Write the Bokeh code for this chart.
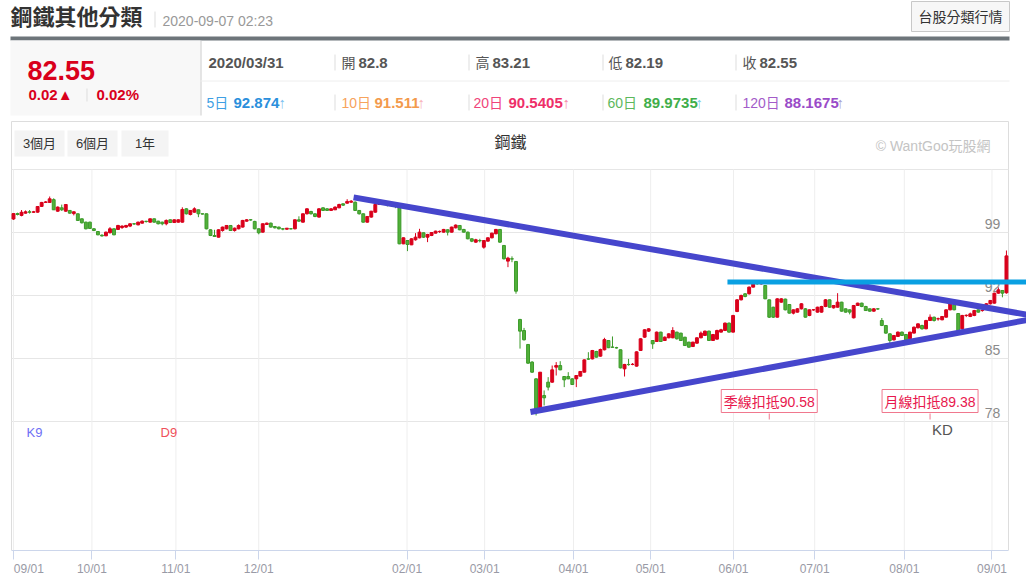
from bokeh.plotting import figure
from bokeh.models import Range1d, FixedTicker
from bokeh.core.properties import value
from bokeh.embed import file_html
from bokeh.resources import INLINE

# ---------------- data ----------------
opens = [100.5, 101.1, 100.9, 101.15, 101.3, 101.25, 101.26, 101.9, 102.34, 102.34,
         102.65, 101.37, 101.74, 101.37, 101.45, 101.1, 101.08, 100.52, 100.15, 100.15,
         99.41, 99.11, 98.7, 98.63, 98.97, 99.41, 99.34, 99.55, 99.6, 99.71,
         99.97, 99.85, 100.04, 100.25, 100.15, 100.52, 100.26, 100.15, 99.97, 100.41,
         100.11, 100.15, 100.15, 101.63, 101.0, 101.26, 101.52, 101.08, 101.08, 99.3,
         98.67, 98.48, 99.22, 99.41, 99.78, 99.22, 99.41, 99.6, 100.26, 100.41,
         100.23, 99.41, 99.04, 99.89, 100.04, 99.67, 99.6, 99.41, 99.37, 99.42,
         99.41, 100.41, 100.15, 101.08, 101.34, 101.08, 100.71, 101.74, 101.63, 101.45,
         101.52, 101.74, 102.19, 102.26, 102.37, 102.37, 101.45, 101.08, 100.15, 100.71,
         101.26, 102.11, 102.48, 102.26, 102.15, 102.19, 102.0, 97.74, 98.11, 97.63,
         98.19, 98.41, 98.97, 98.48, 98.67, 98.93, 99.1, 99.04, 99.3, 99.04,
         99.52, 99.78, 99.34, 99.04, 98.3, 97.93, 98.11, 97.37, 98.04, 98.41,
         98.86, 99.34, 97.56, 95.82, 96.08, 95.78, 89.34, 88.11, 86.56, 84.6,
         82.74, 79.41, 80.89, 82.37, 82.37, 84.04, 84.22, 83.0, 83.0, 82.74,
         82.74, 83.04, 83.48, 84.96, 84.96, 85.78, 85.26, 85.97, 87.0, 86.27,
         86.2, 85.97, 83.85, 84.34, 84.34, 84.15, 85.89, 87.37, 88.04, 87.0,
         86.89, 87.93, 87.0, 87.3, 87.3, 87.93, 87.82, 87.37, 86.82, 86.33,
         86.7, 87.3, 87.56, 88.04, 87.0, 87.15, 87.93, 88.11, 88.93, 87.93,
         90.22, 91.52, 92.19, 92.19, 92.93, 93.35, 93.3, 93.11, 91.52, 90.7,
         89.59, 91.26, 91.6, 91.0, 90.04, 90.15, 90.52, 90.52, 89.78, 90.4,
         90.15, 90.15, 90.78, 91.52, 90.63, 90.7, 91.26, 90.52, 90.41, 89.52,
         90.89, 91.15, 90.78, 90.52, 90.26, 90.52, 89.22, 88.67, 87.74, 87.07,
         87.45, 87.93, 87.67, 87.19, 87.82, 88.41, 88.67, 88.3, 89.22, 89.59,
         89.4, 89.3, 89.59, 90.41, 91.0, 90.0, 88.3, 89.78, 89.67, 89.78,
         90.41, 90.33, 90.7, 91.08, 91.15, 92.26, 92.56, 92.3]
highs = [101.1, 101.2, 101.5, 101.45, 101.5, 101.4, 101.9, 102.4, 102.5, 103.0,
         102.8, 101.9, 102.1, 102.15, 101.5, 101.35, 101.1, 100.55, 100.2, 100.2,
         99.5, 99.15, 98.8, 99.1, 99.6, 99.45, 99.85, 99.8, 99.85, 100.0,
         100.05, 100.2, 100.35, 100.3, 100.55, 100.55, 100.3, 100.2, 100.45, 100.45,
         100.45, 100.45, 101.8, 101.7, 101.5, 101.8, 101.55, 101.1, 101.1, 99.35,
         99.3, 99.35, 99.65, 99.8, 99.8, 99.55, 99.9, 100.4, 100.5, 100.5,
         100.3, 99.45, 100.0, 100.1, 100.1, 99.7, 99.65, 99.5, 99.5, 99.5,
         100.45, 100.8, 101.1, 101.7, 101.4, 101.1, 101.7, 101.8, 101.7, 101.7,
         101.9, 102.2, 102.2, 102.7, 102.6, 102.45, 101.5, 101.1, 100.8, 101.4,
         102.15, 102.45, 102.55, 102.3, 102.2, 102.25, 102.05, 98.45, 98.15, 98.35,
         98.93, 99.41, 99.0, 98.85, 99.05, 99.2, 99.22, 99.4, 99.35, 99.65,
         99.9, 99.82, 99.4, 99.1, 98.35, 98.3, 98.3, 98.15, 98.45, 98.97,
         99.4, 99.38, 97.6, 96.3, 96.35, 95.82, 89.4, 88.4, 86.6, 84.7,
         82.8, 83.5, 81.45, 82.93, 84.22, 84.6, 84.7, 83.05, 83.48, 82.8,
         83.15, 83.6, 84.9, 85.7, 85.95, 85.85, 86.1, 87.3, 87.05, 87.45,
         86.3, 86.0, 84.4, 84.96, 84.5, 85.8, 87.25, 88.25, 88.35, 87.05,
         88.0, 87.97, 87.45, 87.8, 88.48, 87.97, 87.85, 87.4, 86.85, 86.85,
         87.35, 88.0, 88.1, 88.1, 87.7, 88.2, 88.3, 89.0, 89.0, 89.85,
         91.6, 92.1, 92.26, 93.0, 93.37, 93.5, 93.4, 93.15, 91.55, 90.75,
         91.7, 91.7, 91.65, 91.05, 90.45, 90.6, 91.15, 90.6, 90.45, 90.5,
         90.75, 90.85, 91.6, 91.55, 90.95, 92.26, 91.3, 90.55, 90.45, 90.95,
         91.2, 91.2, 90.85, 90.55, 90.6, 90.6, 89.5, 88.7, 87.8, 87.6,
         88.0, 88.0, 87.7, 87.97, 88.55, 88.9, 88.75, 89.3, 89.9, 89.65,
         89.55, 89.7, 90.45, 91.15, 91.05, 90.05, 89.85, 89.9, 90.1, 90.4,
         90.45, 90.45, 91.15, 91.5, 92.3, 92.9, 92.6, 97.0]
lows = [100.4, 100.9, 100.8, 101.1, 101.1, 101.2, 101.2, 101.85, 102.3, 102.3,
        101.5, 101.3, 101.4, 101.3, 101.1, 100.9, 100.3, 100.0, 99.35, 99.4,
        99.15, 98.7, 98.55, 98.6, 98.9, 98.7, 99.3, 99.4, 99.5, 99.6,
        99.85, 99.8, 100.0, 100.1, 100.1, 100.1, 99.9, 99.8, 99.8, 100.05,
        100.05, 100.1, 100.1, 101.0, 100.9, 101.2, 100.7, 101.0, 99.35, 98.6,
        98.5, 98.45, 99.1, 99.35, 99.2, 99.1, 99.35, 99.55, 100.2, 100.3,
        99.35, 98.8, 99.0, 99.85, 99.55, 99.45, 99.35, 99.25, 99.3, 99.35,
        99.35, 100.2, 100.1, 101.0, 101.0, 100.7, 100.65, 101.4, 101.4, 101.4,
        101.5, 101.7, 101.95, 102.2, 102.3, 101.4, 101.0, 100.1, 100.1, 100.65,
        101.2, 102.05, 102.2, 101.9, 101.85, 101.7, 97.7, 97.7, 96.93, 97.6,
        98.1, 98.35, 98.4, 97.93, 98.6, 98.9, 98.95, 99.0, 98.67, 99.0,
        99.45, 99.25, 99.0, 98.25, 97.93, 97.85, 97.9, 97.2, 98.0, 98.35,
        98.8, 97.85, 96.0, 95.15, 95.7, 92.2, 86.1, 87.0, 84.4, 83.4,
        78.67, 79.3, 79.78, 81.45, 82.3, 83.11, 83.7, 81.82, 82.7, 82.05,
        81.82, 83.0, 83.45, 84.85, 84.9, 85.1, 85.2, 85.9, 86.15, 86.2,
        86.1, 83.9, 83.0, 84.2, 84.25, 84.1, 85.85, 87.3, 87.95, 86.07,
        86.85, 86.85, 86.95, 87.25, 87.25, 87.1, 86.95, 86.4, 86.2, 86.3,
        86.65, 87.25, 87.5, 86.95, 86.95, 87.1, 87.9, 88.05, 87.9, 87.9,
        90.15, 91.45, 91.8, 92.1, 92.9, 93.2, 93.2, 91.6, 89.5, 89.5,
        89.55, 91.2, 90.35, 90.0, 89.9, 90.1, 90.45, 89.55, 89.7, 90.3,
        90.1, 90.1, 90.7, 90.65, 90.55, 90.65, 90.2, 90.1, 89.9, 89.45,
        90.85, 90.7, 90.3, 90.2, 90.2, 90.4, 88.6, 87.75, 86.7, 87.0,
        87.4, 87.5, 87.0, 87.15, 87.8, 88.35, 88.2, 88.25, 89.2, 89.1,
        89.2, 89.25, 89.55, 90.35, 90.35, 88.0, 88.25, 89.6, 89.6, 89.7,
        90.1, 90.2, 90.65, 91.0, 91.1, 92.2, 91.8, 92.2]
closes = [101.1, 101.0, 101.25, 101.3, 101.25, 101.3, 101.89, 102.34, 102.4, 102.74,
          101.52, 101.82, 101.52, 102.11, 101.15, 101.3, 100.34, 100.08, 99.41, 99.45,
          99.22, 98.74, 98.62, 99.04, 99.41, 98.74, 99.78, 99.71, 99.78, 99.97,
          99.95, 100.15, 100.26, 100.22, 100.52, 100.15, 99.97, 99.97, 100.34, 100.11,
          100.41, 100.41, 101.56, 101.08, 101.45, 101.63, 101.08, 101.05, 99.41, 98.67,
          98.56, 99.3, 99.6, 99.78, 99.22, 99.48, 99.78, 100.34, 100.41, 100.4,
          99.41, 98.97, 99.97, 100.04, 99.6, 99.52, 99.41, 99.38, 99.48, 99.4,
          100.41, 100.26, 101.08, 101.63, 101.08, 100.78, 101.63, 101.45, 101.45, 101.63,
          101.82, 102.11, 102.04, 102.45, 102.48, 101.45, 101.08, 100.15, 100.78, 101.37,
          102.11, 102.37, 102.26, 102.08, 102.11, 101.89, 97.74, 98.41, 97.67, 98.3,
          98.48, 99.04, 98.48, 98.78, 99.0, 99.15, 99.12, 99.34, 99.04, 99.6,
          99.82, 99.3, 99.04, 98.3, 98.04, 98.19, 98.08, 98.11, 98.41, 98.93,
          99.34, 97.93, 96.08, 96.15, 96.05, 92.48, 88.04, 87.08, 84.48, 83.48,
          79.22, 83.48, 80.63, 81.82, 83.74, 84.22, 83.74, 82.63, 82.74, 82.11,
          83.11, 83.56, 84.85, 84.93, 85.89, 85.15, 86.0, 87.1, 86.2, 86.25,
          86.18, 83.96, 84.34, 84.32, 84.35, 85.74, 87.19, 88.19, 88.3, 86.63,
          87.93, 86.89, 87.37, 87.74, 88.11, 87.19, 87.0, 86.44, 86.26, 86.82,
          87.3, 87.82, 88.04, 87.0, 87.67, 88.11, 88.19, 88.93, 87.93, 89.78,
          91.52, 92.0, 91.89, 92.93, 93.3, 93.3, 93.32, 91.63, 89.59, 89.59,
          91.63, 91.63, 90.41, 90.04, 90.41, 90.52, 91.08, 89.59, 90.41, 90.42,
          90.7, 90.78, 91.52, 90.7, 90.89, 91.26, 90.26, 90.15, 90.15, 90.89,
          91.15, 90.78, 90.33, 90.26, 90.52, 90.5, 88.67, 87.82, 87.0, 87.56,
          87.93, 87.56, 87.07, 87.93, 88.48, 88.85, 88.3, 89.22, 89.59, 89.22,
          89.42, 89.67, 90.41, 91.08, 90.41, 88.11, 89.78, 89.8, 89.96, 90.33,
          90.15, 90.35, 91.08, 91.45, 92.26, 92.63, 92.26, 96.4]

month_pos = [0.0, 19.5, 40.4, 61.0, 97.9, 117.2, 139.3, 158.5, 179.1, 199.3, 221.6, 243.4]
month_labels = ["09/01", "10/01", "11/01", "12/01", "02/01", "03/01",
                "04/01", "05/01", "06/01", "07/01", "08/01", "09/01"]
y_ticks = [78, 85, 92, 99]
y_grid = [78, 85, 92, 99, 106]

# hand-drawn overlays on the original chart (index, price)
upper_x = [84.6, 253.0]
upper_y = [102.9, 89.8]
lower_x = [128.6, 253.0]
lower_y = [79.05, 89.35]
level_x = [177.6, 253.0]
level_y = [93.5, 93.5]

deduct_labels = ["季線扣抵90.58", "月線扣抵89.38"]
deduct_back = [60, 20]

# ---------------- figure ----------------
W, H = 1026, 584
FONT = value("Liberation Sans, Noto Sans CJK TC")
n = len(closes)
idx = list(range(n))

p = figure(width=W, height=H, output_backend="svg", toolbar_location=None,
           x_range=Range1d(-3.234, 251.99), y_range=Range1d(63.667, 124.778),
           y_axis_location=None,
           min_border_left=0, min_border_right=0, min_border_top=0, min_border_bottom=34)
p.extra_x_ranges = {"px": Range1d(0, W)}
p.extra_y_ranges = {"px": Range1d(550, 0)}
p.outline_line_color = None
p.xgrid.visible = False
p.ygrid.visible = False
p.background_fill_color = "white"
p.border_fill_color = "white"

PX = dict(x_range_name="px", y_range_name="px")


def txt(x, y, s, size=15, color="#555555", bold=False, align="left"):
    p.text(x=[x], y=[y], text=[s], text_font=FONT, text_font_size=f"{size}px",
           text_color=color, text_align=align, text_baseline="middle",
           text_font_style="bold" if bold else "normal", **PX)


def hline(x0, x1, y, color, w=1):
    p.segment(x0=[x0], y0=[y], x1=[x1], y1=[y], line_color=color, line_width=w, **PX)


def vline(x, y0, y1, color, w=1):
    p.segment(x0=[x], y0=[y0], x1=[x], y1=[y1], line_color=color, line_width=w, **PX)


def box(l, r, t, b, fill, line=None):
    p.quad(left=[l], right=[r], top=[t], bottom=[b], fill_color=fill,
           line_color=line, **PX)


# ---- page header ----
txt(10, 17, "鋼鐵其他分類", size=22, color="#333333", bold=True)
vline(154.5, 11, 27, "#dddddd")
txt(162, 20, "2020-09-07 02:23", size=14, color="#999999")
box(911, 1009, 1, 31, "#f7f7f7", "#c8c8c8")
txt(960, 16.5, "台股分類行情", size=14, color="#333333", align="center")
box(10, 1009, 36, 40, "#6d757a")

box(10, 200, 40, 115, "#f8f8f8")
vline(200.5, 40, 115, "#cccccc")
txt(27, 70, "82.55", size=27, color="#d9001b", bold=True)
txt(28, 94, "0.02▲", size=15, color="#d9001b", bold=True)
vline(86.5, 88, 101, "#dddddd")
txt(96, 94, "0.02%", size=15, color="#d9001b", bold=True)

hline(200, 1009, 80.5, "#eeeeee")
for xs in (334.5, 468.5, 602.5, 735.5):
    vline(xs, 54, 70, "#dddddd")
    vline(xs, 94, 110, "#dddddd")
txt(208, 62, "2020/03/31", bold=True)
txt(341, 62, "開", size=14)
txt(358, 62, "82.8", bold=True)
txt(475, 62, "高", size=14)
txt(492, 62, "83.21", bold=True)
txt(608, 62, "低", size=14)
txt(625, 62, "82.19", bold=True)
txt(742, 62, "收", size=14)
txt(759, 62, "82.55", bold=True)

ma_items = [
    (206, 233, 278, "5日", "92.874", "#3f9fe4", "#2a8fdc", "#7cc0f0"),
    (341, 374, 417, "10日", "91.511", "#f7a35c", "#f39a4c", "#f8b2b8"),
    (473, 508, 562, "20日", "90.5405", "#f0447a", "#ee2f69", "#f58aa8"),
    (607, 643, 695, "60日", "89.9735", "#5cb85c", "#3fae4a", "#7ccfe8"),
    (742, 784, 836, "120日", "88.1675", "#a35cc9", "#9a4bc8", "#a8a0d0"),
]
for xl, xv, xa, lab, val, c1, c2, c3 in ma_items:
    txt(xl, 102, lab, size=14, color=c1)
    txt(xv, 102, val, color=c2, bold=True)
    txt(xa, 102, "↑", color=c3)

# ---- chart container ----
hline(11, 1008, 121, "#dddddd")
vline(11, 121, 550, "#dddddd")
vline(1008, 121, 550, "#dddddd")
for (l, r, s) in ((14, 64, "3個月"), (67, 117, "6個月"), (121, 168, "1年")):
    box(l, r, 130, 156, "#f4f4f4")
    txt((l + r) / 2, 143, s, size=13, color="#333333", align="center")
txt(510, 142, "鋼鐵", size=16, color="#333333", align="center")
txt(990, 145, "© WantGoo玩股網", size=14, color="#c4c4c4", align="right")

# ---- grid ----
x_left, x_right = -0.5, n - 0.5
p.segment(x0=[x_left] * len(y_grid), y0=y_grid, x1=[x_right] * len(y_grid), y1=y_grid,
          line_color="#e6e6e6", line_width=1)
p.segment(x0=month_pos, y0=[63.667] * len(month_pos), x1=month_pos, y1=[max(y_grid)] * len(month_pos),
          line_color="#eeeeee", line_width=1)

# y tick labels drawn inside the plot on the right
p.text(x=[n - 2.5] * len(y_ticks), y=y_ticks, text=[str(v) for v in y_ticks],
       text_font=FONT, text_font_size="14px", text_color="#8a8a8a",
       text_align="right", text_baseline="middle", y_offset=-9)

# KD pane labels
txt(26, 431.5, "K9", size=13, color="#6f6ff5")
txt(160, 431.5, "D9", size=13, color="#f0505a")
txt(942, 429, "KD", size=15, color="#555555", align="center")

# ---- candles ----
up = [c >= o for o, c in zip(opens, closes)]
RED, GREEN, GREEN_EDGE = "#d9001b", "#52b03a", "#3a9a28"
fill = [RED if u else GREEN for u in up]
edge = [RED if u else GREEN_EDGE for u in up]
p.segment(x0=idx, y0=highs, x1=idx, y1=lows, line_color=edge, line_width=1)
p.vbar(x=idx, width=0.72, top=[max(o, c) for o, c in zip(opens, closes)],
       bottom=[min(o, c) for o, c in zip(opens, closes)],
       fill_color=fill, line_color=edge, line_width=1)

# ---- drawn overlays ----
p.line(x=upper_x, y=upper_y, line_color="#4646cc", line_width=6)
p.line(x=lower_x, y=lower_y, line_color="#4646cc", line_width=6)
p.line(x=level_x, y=level_y, line_color="#0aa0e2", line_width=5)

# deduction labels
for lab, back in zip(deduct_labels, deduct_back):
    xi = n - back
    p.rect(x=[xi], y=[400.5], width=96, height=23, width_units="screen",
           height_units="screen", fill_color="white", line_color="#f0788e",
           line_width=1, y_range_name="px")
    p.text(x=[xi], y=[401], text=[lab], text_font=FONT, text_font_size="14px",
           text_color="#e8184e", text_align="center", text_baseline="middle",
           y_range_name="px")
    p.segment(x0=[xi], y0=[413], x1=[xi], y1=[419], line_color="#f0788e",
              line_width=1, y_range_name="px")

# ---- bottom date axis ----
shown_labels = list(month_labels)
shown_labels[0] = "\u00a0" * 4 + shown_labels[0]  # first label sits right of its tick, as in the original
ax = p.xaxis[0]
ax.ticker = FixedTicker(ticks=month_pos)
ax.major_label_overrides = dict(zip(month_pos, shown_labels))
ax.axis_line_color = "#ccd6eb"
ax.major_tick_line_color = "#ccd6eb"
ax.minor_tick_line_color = None
ax.major_tick_out = 9
ax.major_tick_in = 0
ax.major_label_standoff = 2
ax.major_label_text_font = "Liberation Sans"
ax.major_label_text_font_size = "12px"
ax.major_label_text_color = "#999aa6"
ax.bounds = (x_left, x_right)

open("out.html", "w").write(file_html(p, INLINE))
